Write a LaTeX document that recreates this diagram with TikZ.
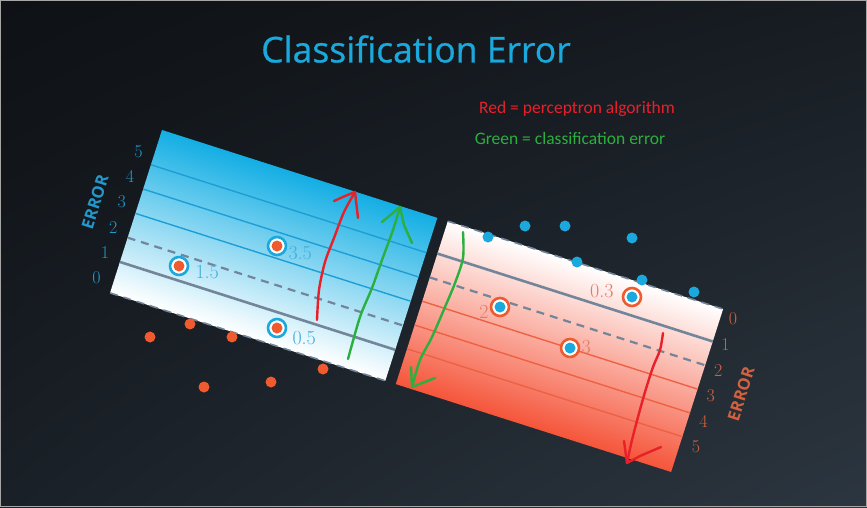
\documentclass[tikz,border=0pt]{standalone}
\usepackage{fontspec}
\newfontfamily\titlefont{Open Sans}
\newfontfamily\headfont{Open Sans}[FakeBold=0.7]
\newfontfamily\notefont{Carlito}
\usetikzlibrary{positioning, shadings}

\definecolor{bgtl}{HTML}{0E1115}
\definecolor{bgtr}{HTML}{171C22}
\definecolor{bgbl}{HTML}{1A2027}
\definecolor{bgbr}{HTML}{2C3640}
\definecolor{skyblue}{HTML}{13AEE4}
\definecolor{lineblue}{HTML}{1B9FD6}
\definecolor{coral}{HTML}{F5553A}
\definecolor{linecoral}{HTML}{EE6142}
\definecolor{dotred}{HTML}{EF5A2E}
\definecolor{dotblue}{HTML}{1BA8DD}
\definecolor{rulegray}{HTML}{72859A}
\definecolor{penred}{HTML}{E8202A}
\definecolor{pengreen}{HTML}{2BAF3E}
\definecolor{tickblue}{HTML}{2298CB}
\definecolor{tickred}{HTML}{D4603E}
\definecolor{lblblue}{HTML}{3EAEDD}
\definecolor{lblred}{HTML}{E27A66}
\definecolor{titleblue}{HTML}{1AA9DD}

\begin{document}
\begin{tikzpicture}[x=1pt, y=-1pt,
    panelrule/.style={line width=2.6pt, rulegray},
    panelmargin/.style={line width=2.2pt, rulegray, dash pattern=on 8pt off 6pt},
    level/.style={line width=1.4pt, #1},
    reddot/.style={circle, fill=dotred, inner sep=0pt, minimum size=11pt},
    bluedot/.style={circle, fill=dotblue, inner sep=0pt, minimum size=11pt},
    ring/.style={circle, draw=#1, line width=2.6pt, fill=white, inner sep=0pt, minimum size=18pt},
    datalbl/.style={inner sep=0pt, font=\fontsize{20}{20}\selectfont},
    ticklbl/.style={inner sep=0pt, font=\fontsize{18}{18}\selectfont},
    axislbl/.style={inner sep=0pt, rotate=72.3, font=\titlefont\bfseries\fontsize{16.5}{16.5}\selectfont},
    note/.style={inner sep=0pt, font=\notefont\fontsize{17.5}{17.5}\selectfont},
    pen/.style={line width=2.4pt, line cap=round, line join=round}
]
\useasboundingbox (0,0) rectangle (867,507);

% background
\shade[upper left=bgtl, upper right=bgtr, lower left=bgbl, lower right=bgbr] (0,0) rectangle (867,507);
\draw[gray!70, line width=1pt] (0.5,0.5) rectangle (866.5,506.5);

\node[titleblue, inner sep=0pt, font=\headfont\fontsize{35.5}{35.5}\selectfont] (title) at (416,49) {Classification Error};
\node[note, text=penred] (redkey) at (577,109) {Red = perceptron algorithm};
\node[note, text=pengreen] (greenkey) at (570,138) {Green = classification error};

% the two panels, tilted
\begin{scope}[transform canvas={shift={(162,130)}, rotate=-17.7}]
  \shade[top color=skyblue, middle color=skyblue!55!white, bottom color=white] (0,0) rectangle (289,171);
  \shade[top color=white, middle color=coral!45!white, bottom color=coral] (300,0) rectangle (589,171);
\end{scope}

\begin{scope}[shift={(162,130)}, rotate=-17.7]
  % left panel levels
  \foreach \k in {3,4,5}
    \draw[level=lineblue] (0,{164-25.5*\k}) -- (289,{164-25.5*\k});
  \draw[panelmargin] (0,113) -- (289,113);
  \draw[panelrule] (0,138.5) -- (289,138.5);
  \draw[panelmargin, line width=1.6pt] (0,171) -- (289,171);
  % right panel levels
  \foreach \k in {3,4,5}
    \draw[level=linecoral] (300,{9+25*\k}) -- (589,{9+25*\k});
  \draw[panelmargin] (300,59) -- (589,59);
  \draw[panelrule] (300,34) -- (589,34);
  \draw[panelmargin, line width=1.6pt] (300,0) -- (589,0);
\end{scope}

% error scales
\foreach \k in {0,...,5}
  \node[ticklbl, text=tickblue] at ({96.5+8.4*\k},{277.5-25.2*\k}) {\k};
\foreach \k in {0,...,5}
  \node[ticklbl, text=tickred] at ({733-7.4*\k},{319+25.6*\k}) {\k};
\node[axislbl, text=tickblue] (errleft) at (95,202) {ERROR};
\node[axislbl, text=tickred] (errright) at (741,394) {ERROR};

% points outside the panels
\foreach \x/\y in {150/337, 190/324, 232/337, 323/369, 271/382, 204/387}
  \node[reddot] at (\x,\y) {};
\foreach \x/\y in {488/237, 525/226, 565/226, 632/238, 577/262, 642/280, 694/292}
  \node[bluedot] at (\x,\y) {};

% misclassified points
\node[ring=dotblue] (a1) at (179,266) {};
\node[reddot] at (a1) {};
\node[ring=dotblue] (a2) at (277,246) {};
\node[reddot] at (a2) {};
\node[ring=dotblue] (a3) at (277,328) {};
\node[reddot] at (a3) {};
\node[ring=dotred] (b1) at (500,307) {};
\node[bluedot] at (b1) {};
\node[ring=dotred] (b2) at (632,297) {};
\node[bluedot] at (b2) {};
\node[ring=dotred] (b3) at (570,348) {};
\node[bluedot] at (b3) {};

\node[datalbl, text=lblblue, right=6pt of a1, yshift=-6pt] {1.5};
\node[datalbl, text=lblblue, right=1pt of a2, yshift=-7pt] {3.5};
\node[datalbl, text=lblblue, right=5pt of a3, yshift=-10pt] {0.5};
\node[datalbl, text=lblred, left=1pt of b1, yshift=-5pt] {2};
\node[datalbl, text=lblred, left=8pt of b2, yshift=6pt] {0.3};
\node[datalbl, text=lblred, right=1pt of b3, yshift=1pt] {3};

% hand-drawn arrows
\draw[pen, penred] plot[smooth] coordinates {(317,320) (319,290) (325,262) (334,238) (344,212) (355,192)};
\draw[pen, penred] (334,201) -- (345,196) -- (355,192) -- (358,218);
\draw[pen, pengreen] plot[smooth] coordinates {(348,359) (360,317) (372,288) (382,260) (393,230) (400,207)};
\draw[pen, pengreen] (382,222) -- (400,207) -- (404,225) -- (412,243);
\draw[pen, pengreen] plot[smooth] coordinates {(463,232) (463,258) (455,283) (445,307) (432,337) (420,360) (412,387)};
\draw[pen, pengreen] (411,367) -- (412,387) -- (435,378);
\draw[pen, penred] plot[smooth] coordinates {(663,333) (660,350) (653,367) (645,392) (638,417) (632,440) (627,463)};
\draw[pen, penred] (624,441) -- (627,463) -- (640,456) -- (661,447);
\end{tikzpicture}
\end{document}
